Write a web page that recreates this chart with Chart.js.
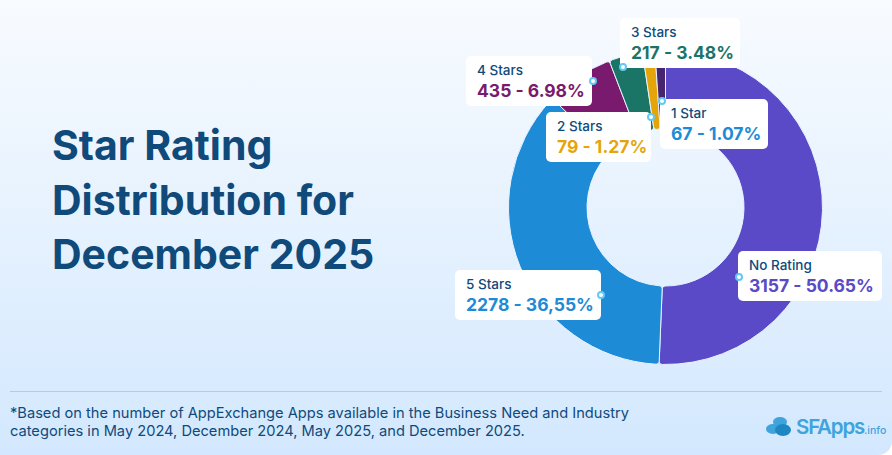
<!DOCTYPE html>
<html>
<head>
<meta charset="utf-8">
<script src="https://cdn.jsdelivr.net/npm/chart.js@4/dist/chart.umd.min.js"></script>
<style>
    html, body { margin: 0; padding: 0; background: #fff; }
    #page {
        position: relative; width: 892px; height: 455px; overflow: hidden;
        background: linear-gradient(180deg, #f8fbff 0%, #d3e8fe 100%);
        border-bottom-right-radius: 14px;
        font-family: Inter, sans-serif; color: #0f4a7a;
    }
    #title {
        position: absolute; left: 52px; top: 118px; margin: 0;
        font-size: 41px; line-height: 54.5px; font-weight: 700; white-space: nowrap;
    }
    #chartBox { position: absolute; left: 508px; top: 50px; width: 315px; height: 315px; }
    #rule { position: absolute; left: 10px; top: 391px; width: 872px; height: 1px; background: #a9cfe9; }
    #note {
        position: absolute; left: 10px; top: 404px; margin: 0;
        font-size: 14.65px; line-height: 18px; white-space: nowrap; color: #0f4a7a;
    }
    .callout {
        position: absolute; height: 50px; box-sizing: border-box; padding: 6px 0 0 11px;
        background: #fff; border-radius: 5px; white-space: nowrap;
    }
    .callout .name { font-size: 13.5px; line-height: 17px; font-weight: 500; color: #0f4a7a; }
    .callout .value { font-size: 17.5px; line-height: 23px; font-weight: 700; }
    .dot {
        position: absolute; width: 4px; height: 4px; border: 2px solid #62c8f7;
        border-radius: 50%; background: #fff;
    }
    #logo { position: absolute; left: 765px; top: 415px; }
    #logoText {
        position: absolute; left: 796px; top: 414px; font-size: 20.5px; line-height: 26px;
        font-weight: 600; letter-spacing: -1.2px; color: #3fa3dc; white-space: nowrap;
    }
    #logoText small { font-size: 10.5px; letter-spacing: 0; font-weight: 500; }
</style>
</head>
<body>
<div id="page">
    <h1 id="title">Star Rating<br>Distribution for<br>December 2025</h1>
    <div id="chartBox"><canvas id="ratingChart" width="315" height="315"></canvas></div>
    <div id="callouts"></div>
    <div id="rule"></div>
    <p id="note">*Based on the number of AppExchange Apps available in the Business Need and Industry<br>categories in May 2024, December 2024, May 2025, and December 2025.</p>
    <svg id="logo" width="30" height="24" viewBox="0 0 30 24">
        <ellipse cx="8" cy="14" rx="7" ry="5" fill="#3fa3dc"/>
        <ellipse cx="15" cy="7" rx="7" ry="5" fill="#3fa3dc"/>
        <ellipse cx="18" cy="15" rx="8" ry="6" fill="#1f86c4"/>
    </svg>
    <div id="logoText">SFApps<small>.info</small></div>
</div>
<script>
// Star rating data for December 2025
const ratingNames = ['No Rating', '5 Stars', '4 Stars', '3 Stars', '2 Stars', '1 Star'];
const ratingCounts = [3157, 2278, 435, 217, 79, 67];
const ratingPercents = ['50.65%', '36,55%', '6.98%', '3.48%', '1.27%', '1.07%'];
const ratingColors = ['#5a4ac8', '#1e8bd6', '#7a1a6e', '#1b7567', '#e5a50a', '#46246e'];

// where each callout box and its dot sit: box left, top, width, dot left, top
const calloutSpots = [
    [738, 251, 144, 735, 273],
    [455, 270, 146, 597, 291],
    [466, 56, 126, 589, 77],
    [620, 18, 120, 619, 63],
    [546, 112, 105, 647, 113],
    [660, 99, 108, 658, 97]
];

new Chart(document.getElementById('ratingChart').getContext('2d'), {
    type: 'doughnut',
    data: {
        labels: ratingNames,
        datasets: [{
            data: ratingCounts,
            backgroundColor: ratingColors,
            borderColor: '#e6f2ff',
            borderWidth: 1,
            borderRadius: 3
        }]
    },
    options: {
        responsive: false,
        animation: false,
        cutout: '50%',
        plugins: { legend: { display: false }, tooltip: { enabled: false } }
    }
});

// Callouts over the ring
const callouts = document.getElementById('callouts');
ratingNames.forEach((name, i) => {
    const spot = calloutSpots[i];
    const box = document.createElement('div');
    box.className = 'callout';
    box.style.left = spot[0] + 'px';
    box.style.top = spot[1] + 'px';
    box.style.width = spot[2] + 'px';
    const valueColor = i === 5 ? ratingColors[1] : ratingColors[i];
    box.innerHTML = '<div class="name">' + name + '</div>' +
        '<div class="value" style="color:' + valueColor + '">' + ratingCounts[i] + ' - ' + ratingPercents[i] + '</div>';
    callouts.appendChild(box);
    const dot = document.createElement('div');
    dot.className = 'dot';
    dot.style.left = spot[3] + 'px';
    dot.style.top = spot[4] + 'px';
    callouts.appendChild(dot);
});
</script>
</body>
</html>
